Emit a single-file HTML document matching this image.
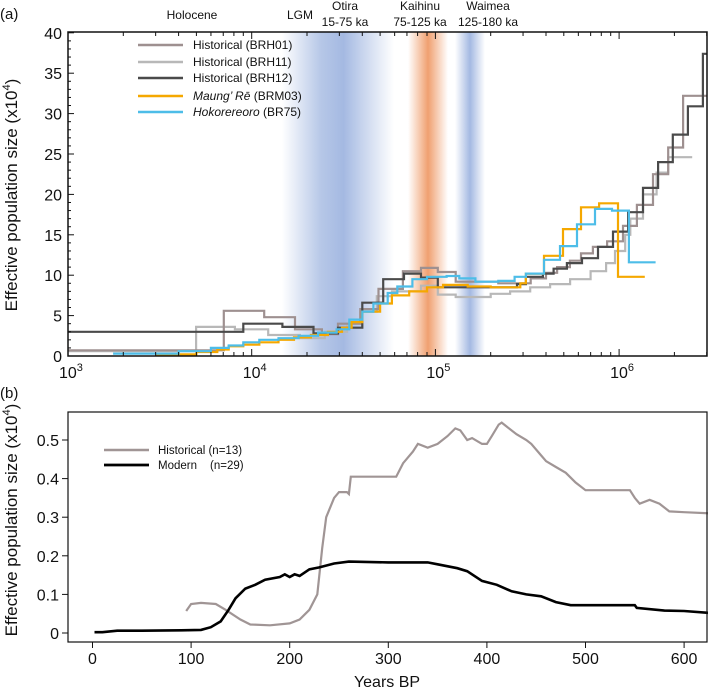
<!DOCTYPE html>
<html><head><meta charset="utf-8">
<style>
body{margin:0;background:#fff;}
svg{display:block;font-family:"Liberation Sans",sans-serif;}
</style></head>
<body>
<svg id="chart" width="708" height="690" viewBox="0 0 708 690" xmlns="http://www.w3.org/2000/svg">
<defs>
<linearGradient id="gBlue1" x1="0" x2="1" y1="0" y2="0">
<stop offset="0" stop-color="#a9bde3" stop-opacity="0"/>
<stop offset="0.35" stop-color="#a9bde3" stop-opacity="0.85"/>
<stop offset="0.55" stop-color="#a4b9e2" stop-opacity="1"/>
<stop offset="1" stop-color="#a9bde3" stop-opacity="0"/>
</linearGradient>
<linearGradient id="gOrange" x1="0" x2="1" y1="0" y2="0">
<stop offset="0" stop-color="#f0a070" stop-opacity="0"/>
<stop offset="0.5" stop-color="#f0a070" stop-opacity="1"/>
<stop offset="1" stop-color="#f0a070" stop-opacity="0"/>
</linearGradient>
<linearGradient id="gBlue2" x1="0" x2="1" y1="0" y2="0">
<stop offset="0" stop-color="#a4b9e2" stop-opacity="0"/>
<stop offset="0.5" stop-color="#a4b9e2" stop-opacity="1"/>
<stop offset="1" stop-color="#a4b9e2" stop-opacity="0"/>
</linearGradient>
</defs>
<g id="pa"></g>
<g id="pb"></g>
</svg>
<script>
// ---------- Panel A data (years, Ne x10^4); T has one more entry (end) than V ----------
const brh12T = [1000,9000,14700,21700,29500,40000,52000,67500,83500,103000,278000,311000,385000,440000,520000,628000,768000,926000,1120000,1350000,1630000,1960000,2370000,2860000,3000000];
const brh12V = [3.0,4.0,3.6,2.8,3.5,6.6,9.5,10.2,9.7,8.5,8.9,9.8,10.2,10.8,11.5,12.1,13.5,15.4,17.8,20.8,24.0,27.4,30.9,37.4];
const brh01T = [1000,7050,11700,17200,24100,29500,39000,49000,66500,83500,103000,129000,220000,330000,400000,460000,540000,620000,720000,860000,1050000,1250000,1530000,1850000,2230000,3000000];
const brh01V = [0.7,5.6,4.8,3.3,2.7,4.0,5.8,8.3,10.5,10.9,10.4,9.2,9.0,9.6,10.3,11.0,11.8,12.7,13.5,14.2,16.1,18.7,22.5,25.8,32.2];
const brh11T = [1000,4980,8100,12300,18300,25000,33000,39000,48000,58000,83500,103000,129000,200000,255000,328000,421000,541000,700000,850000,950000,1080000,1150000,1350000,1600000,1850000,2500000];
const brh11V = [0.6,3.6,3.3,2.6,2.2,3.0,4.0,5.5,7.4,8.0,8.7,7.6,7.3,7.7,8.0,8.5,8.9,9.5,10.5,11.5,13.0,15.0,17.0,20.0,22.7,24.6];
const brm03T = [3000,5000,6500,7500,9000,11000,14000,17000,21000,26000,31000,35000,40000,50000,58000,72000,90000,110000,150000,200000,290000,311000,390000,495000,620000,778000,986000,1380000];
const brm03V = [0.2,0.5,0.8,1.2,1.4,1.7,2.0,2.3,2.6,3.0,3.5,4.2,5.5,6.5,7.5,8.0,8.5,8.8,8.6,8.5,9.0,10.2,12.4,15.7,18.4,18.9,9.8];
const br75T = [1760,4000,6000,7500,9000,11000,14000,18000,23000,29000,34000,40000,46000,55000,62000,75000,90000,115000,135000,165000,220000,270000,311000,390000,477000,590000,739000,915000,1130000,1580000];
const br75V = [0.3,0.6,1.0,1.3,1.7,2.0,2.2,2.5,2.9,3.3,4.5,5.5,6.5,7.8,8.6,9.5,9.8,9.9,9.6,9.2,9.3,9.8,10.2,11.9,13.6,16.3,18.2,18.0,11.6];
const aYTicks = [0,5,10,15,20,25,30,35,40];
const aXExps = [3,4,5,6];

// ---------- Panel B data (years BP, Ne x10^4) ----------
const histYears = [95,100,110,125,135,150,160,180,200,210,220,228,233,237,245,250,258,260,262,300,308,315,325,330,340,350,360,368,373,380,385,395,400,405,412,415,420,430,440,445,455,460,470,480,490,500,520,545,550,555,565,575,585,600,625];
const histNe = [0.057,0.075,0.078,0.075,0.06,0.035,0.022,0.02,0.025,0.035,0.06,0.10,0.22,0.30,0.35,0.365,0.365,0.36,0.405,0.405,0.405,0.44,0.47,0.49,0.48,0.49,0.51,0.53,0.525,0.5,0.505,0.49,0.49,0.51,0.54,0.545,0.535,0.515,0.5,0.49,0.46,0.445,0.43,0.415,0.39,0.37,0.37,0.37,0.35,0.335,0.345,0.335,0.315,0.313,0.31];
const modYears = [2,10,25,50,90,110,120,130,138,145,155,165,175,190,195,200,205,210,220,230,245,260,300,340,350,370,380,395,410,425,440,455,470,485,500,550,552,580,600,625];
const modNe = [0.002,0.002,0.006,0.006,0.007,0.008,0.015,0.03,0.06,0.09,0.115,0.125,0.138,0.145,0.152,0.145,0.152,0.148,0.165,0.17,0.18,0.185,0.183,0.183,0.178,0.168,0.16,0.135,0.125,0.108,0.1,0.095,0.08,0.072,0.072,0.072,0.065,0.058,0.057,0.052];
const bYTicks = [0,0.1,0.2,0.3,0.4,0.5];
const bYLabels = ["0","0.1","0.2","0.3","0.4","0.5"];
const bXTicks = [0,100,200,300,400,500,600];

const NS="http://www.w3.org/2000/svg";
function mk(tag,attrs,parent,text){const e=document.createElementNS(NS,tag);for(const k in attrs)e.setAttribute(k,attrs[k]);if(text!==undefined)e.textContent=text;parent.appendChild(e);return e;}

// ---------- Panel A ----------
const pa=document.getElementById('pa');
const A={l:68,r:707,t:32,b:356};
const ax=t=>A.l+183.7*(Math.log10(t)-3);
const ay=v=>A.b-v*8.08;

let band=mk('rect',{x:282,y:A.t,width:112,height:A.b-A.t,fill:'url(#gBlue1)'},pa);

band=mk('rect',{x:408,y:A.t,width:40,height:A.b-A.t,fill:'url(#gOrange)'},pa);

band=mk('rect',{x:455,y:A.t,width:30,height:A.b-A.t,fill:'url(#gBlue2)'},pa);


const heads=[["Holocene",192,19],["LGM",300,19],["Otira",345,10],["15-75 ka",345,26],["Kaihinu",420,10],["75-125 ka",420,26],["Waimea",488,10],["125-180 ka",488,26]];
heads.forEach(h=>{const e=mk('text',{x:h[1],y:h[2],'font-size':12,'text-anchor':'middle',fill:'#111'},pa,h[0]);
});
let lab=mk('text',{x:0,y:19,'font-size':15,fill:'#111'},pa,'(a)');


function stepPath(T,V){let d='M'+ax(T[0]).toFixed(1)+','+ay(V[0]).toFixed(1);
for(let i=0;i<V.length;i++){d+=' H'+ax(T[i+1]).toFixed(1);if(i+1<V.length)d+=' V'+ay(V[i+1]).toFixed(1);}return d;}
const seriesA=[[brh11T,brh11V,'#b8b8b8','series-brh11'],[brh01T,brh01V,'#9e9090','series-brh01'],[brh12T,brh12V,'#4a4a4a','series-brh12'],[brm03T,brm03V,'#f5a800','series-brm03'],[br75T,br75V,'#4dbde8','series-br75']];
seriesA.forEach(s=>{const p=mk('path',{d:stepPath(s[0],s[1]),fill:'none',stroke:s[2],'stroke-width':2.2},pa);
});

let box=mk('rect',{x:A.l,y:A.t,width:A.r-A.l,height:A.b-A.t,fill:'none',stroke:'#111','stroke-width':1.5},pa);

for(let v=0;v<=40;v++){const major=v%5===0;mk('line',{x1:A.l,x2:A.l+(major?6:3),y1:ay(v),y2:ay(v),stroke:'#111','stroke-width':1},pa);}
aYTicks.forEach(v=>{const e=mk('text',{x:A.l-6,y:ay(v)+6,'font-size':16,'text-anchor':'end',fill:'#111'},pa,String(v));
});
for(let e=3;e<=6;e++){for(let m=1;m<10;m++){const t=m*Math.pow(10,e);if(t>3e6)break;const x=ax(t);const len=m===1?7:4;
mk('line',{x1:x,x2:x,y1:A.b,y2:A.b-len,stroke:'#111','stroke-width':1},pa);mk('line',{x1:x,x2:x,y1:A.t,y2:A.t+len,stroke:'#111','stroke-width':1},pa);}}
aXExps.forEach(e=>{const x=ax(Math.pow(10,e));const t=mk('text',{x:x-9,y:A.b+22,'font-size':16,fill:'#111'},pa);

mk('tspan',{},t,'10');mk('tspan',{dy:-7,'font-size':11},t,String(e));});
lab=mk('text',{transform:'translate(17,195) rotate(-90)','font-size':17,'text-anchor':'middle',fill:'#111'},pa);

mk('tspan',{},lab,'Effective population size (x10');mk('tspan',{dy:-7,'font-size':11},lab,'4');mk('tspan',{dy:7},lab,')');

const legA=[['#9e9090','Historical (BRH01)',false],['#b8b8b8','Historical (BRH11)',false],['#4a4a4a','Historical (BRH12)',false],['#f5a800','Maung\u2019 R\u0113',true,' (BRM03)'],['#4dbde8','Hokorereoro',true,' (BR75)']];
const legYs=[45,62,78,96,112];
legA.forEach((L,i)=>{const g=mk('g',{},pa);
mk('line',{x1:138,x2:183,y1:legYs[i],y2:legYs[i],stroke:L[0],'stroke-width':2.5},g);
const t=mk('text',{x:193,y:legYs[i]+4,'font-size':12,fill:'#111'},g);
if(L[2]){mk('tspan',{'font-style':'italic'},t,L[1]);mk('tspan',{},t,L[3]);}else t.textContent=L[1];});

// ---------- Panel B ----------
const pb=document.getElementById('pb');
const B={l:68,r:707,t:412,b:642};
const bx=y=>92.5+0.986*y;
const by=v=>633-v*386;
lab=mk('text',{x:0,y:398,'font-size':15,fill:'#111'},pb,'(b)');

function linePath(X,Y){return X.map((x,i)=>(i?'L':'M')+bx(x).toFixed(1)+','+by(Y[i]).toFixed(1)).join(' ');}
let p=mk('path',{d:linePath(histYears,histNe),fill:'none',stroke:'#a09595','stroke-width':2.2},pb);

p=mk('path',{d:linePath(modYears,modNe),fill:'none',stroke:'#000','stroke-width':2.6},pb);

mk('rect',{x:B.l,y:B.t,width:B.r-B.l,height:B.b-B.t,fill:'none',stroke:'#111','stroke-width':1.2},pb);
bYTicks.forEach((v,i)=>{mk('line',{x1:B.l-6,x2:B.l,y1:by(v),y2:by(v),stroke:'#111'},pb);
const e=mk('text',{x:B.l-9,y:by(v)+6,'font-size':16,'text-anchor':'end',fill:'#111'},pb,bYLabels[i]);
});
bXTicks.forEach(v=>{mk('line',{x1:bx(v),x2:bx(v),y1:B.b,y2:B.b+6,stroke:'#111'},pb);
const e=mk('text',{x:bx(v),y:B.b+22,'font-size':16,'text-anchor':'middle',fill:'#111'},pb,String(v));
});
lab=mk('text',{x:387,y:687,'font-size':16,'text-anchor':'middle',fill:'#111'},pb,'Years BP');

lab=mk('text',{transform:'translate(17,520) rotate(-90)','font-size':17,'text-anchor':'middle',fill:'#111'},pb);

mk('tspan',{},lab,'Effective population size (x10');mk('tspan',{dy:-7,'font-size':11},lab,'4');mk('tspan',{dy:7},lab,')');
let g=mk('g',{},pb);
mk('line',{x1:104,x2:149,y1:450,y2:450,stroke:'#a09595','stroke-width':2.5},g);
mk('text',{x:158,y:454,'font-size':11.5,fill:'#111'},g,'Historical (n=13)');
g=mk('g',{},pb);
mk('line',{x1:104,x2:149,y1:465,y2:465,stroke:'#000','stroke-width':2.8},g);
mk('text',{x:158,y:469,'font-size':11.5,fill:'#111'},g,'Modern');
mk('text',{x:210,y:469,'font-size':11.5,fill:'#111'},g,'(n=29)');
</script>
</body></html>
